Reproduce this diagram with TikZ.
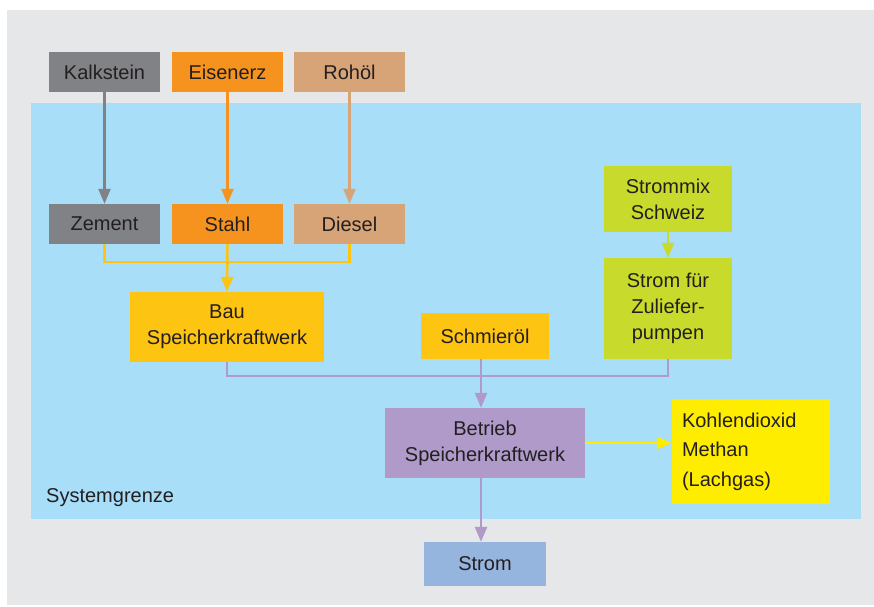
\documentclass[tikz,border=0pt]{standalone}
\usepackage{fontspec}
\setmainfont{Liberation Sans}
\usetikzlibrary{arrows.meta,positioning}
\definecolor{bggray}{HTML}{E6E7E9}
\definecolor{sysblue}{HTML}{A8DEF8}
\definecolor{cgray}{HTML}{818286}
\definecolor{corange}{HTML}{F5931E}
\definecolor{ctan}{HTML}{D6A477}
\definecolor{cgold}{HTML}{FEC412}
\definecolor{cgreen}{HTML}{C8DA2B}
\definecolor{cpurple}{HTML}{AF9AC9}
\definecolor{cyellow}{HTML}{FFED00}
\definecolor{cblue}{HTML}{95B5DF}
\definecolor{txt}{HTML}{231F20}
\begin{document}
\begin{tikzpicture}[x=1pt,y=-1pt,
  box/.style={inner sep=0pt, text=txt, align=center,
    font=\fontsize{20}{26}\selectfont},
  conn/.style={line width=2.5pt},
  arr/.style={conn, -{Triangle[width=12pt,length=15pt]}},
  txtlbl/.style={text=txt, font=\fontsize{20}{26}\selectfont, inner sep=0pt}
]
\useasboundingbox (0,0) rectangle (874,606);
\fill[bggray] (7,10) rectangle (874,605);
\fill[sysblue] (31,103) rectangle (861,519);

% boxes
\node[box, fill=cgray, minimum width=111pt, minimum height=40pt] (kalk) at (104.5,72) {Kalkstein};
\node[box, fill=corange, minimum width=111pt, minimum height=40pt] (eisen) at (227.5,72) {Eisenerz};
\node[box, fill=ctan, minimum width=111pt, minimum height=40pt] (roh) at (349.5,72) {Rohöl};
\node[box, fill=cgray, minimum width=111pt, minimum height=40pt] (zem) at (104.5,224) {Zement};
\node[box, fill=corange, minimum width=111pt, minimum height=40pt] (stahl) at (227.5,224) {Stahl};
\node[box, fill=ctan, minimum width=111pt, minimum height=40pt] (dies) at (349.5,224) {Diesel};
\node[box, fill=cgold, minimum width=194pt, minimum height=70pt] (bau) at (227,327) {Bau\\Speicherkraftwerk};
\node[box, fill=cgold, minimum width=128pt, minimum height=46pt] (schm) at (485,336) {Schmieröl};
\node[box, fill=cgreen, minimum width=128pt, minimum height=66pt] (mix) at (668,199) {Strommix\\Schweiz};
\node[box, fill=cgreen, minimum width=128pt, minimum height=101pt] (zul) at (668,308.5) {Strom für\\Zuliefer-\\pumpen};
\node[box, fill=cpurple, minimum width=200pt, minimum height=70pt] (betr) at (485,443) {Betrieb\\Speicherkraftwerk};
\node[box, fill=cyellow, minimum width=158pt, minimum height=105pt, align=left,
  text width=138pt, inner xsep=10pt, font=\fontsize{20}{29.5}\selectfont] (kohl) at (751,451.5) {Kohlendioxid\\Methan\\(Lachgas)};
\node[box, fill=cblue, minimum width=122pt, minimum height=44pt] (strom) at (485,564) {Strom};
\node[txtlbl, anchor=base west] (sys) at (46,502) {Systemgrenze};

% connectors
\draw[arr, color=cgray] (kalk) -- (zem);
\draw[arr, color=corange] (eisen) -- (stahl);
\draw[arr, color=ctan] (roh) -- (dies);
\draw[conn, color=cgold] (zem.south) -- ++(0,18) -| (dies.south);
\draw[arr, color=cgold] (stahl.south) -- (bau.north);
\draw[arr, color=cgreen] (mix) -- (zul);
\draw[conn, color=cpurple] (bau.south) -- ++(0,14) -| (zul.south);
\draw[arr, color=cpurple] ([xshift=-4pt]schm.south) -- ([xshift=-4pt]betr.north);
\draw[arr, color=cyellow] (betr.east) -- (betr.east -| kohl.west);
\draw[arr, color=cpurple] ([xshift=-4pt]betr.south) -- ([xshift=-4pt]strom.north);
\end{tikzpicture}
\end{document}
